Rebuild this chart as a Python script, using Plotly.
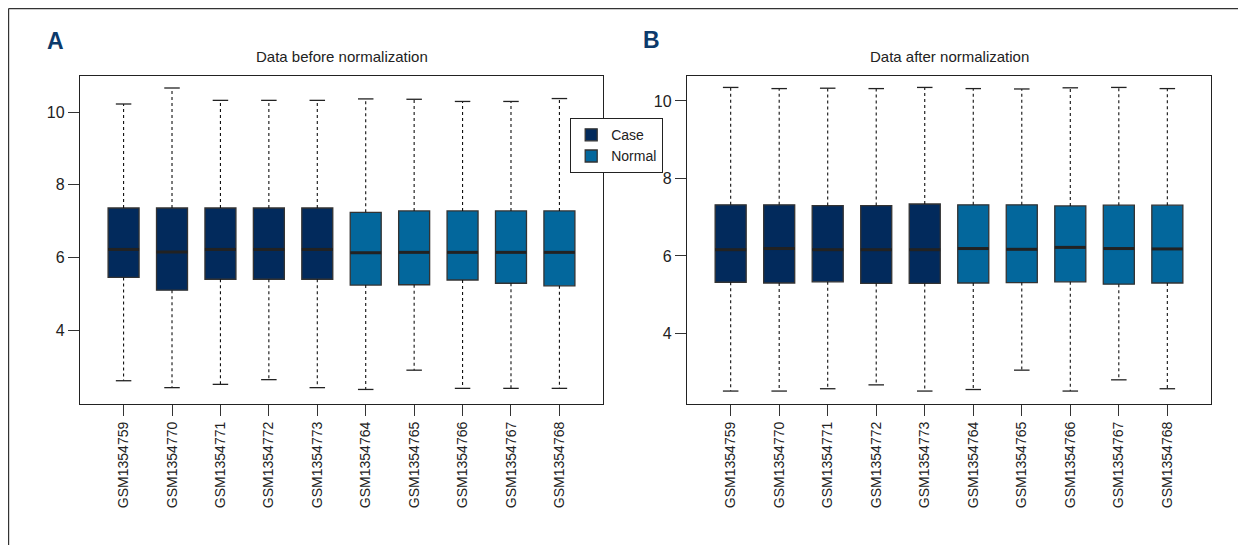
import plotly.graph_objects as go

# ---------------- data ----------------
samples = ["GSM1354759", "GSM1354770", "GSM1354771", "GSM1354772", "GSM1354773",
           "GSM1354764", "GSM1354765", "GSM1354766", "GSM1354767", "GSM1354768"]
groups = ["Case"] * 5 + ["Normal"] * 5

# Panel A: before normalization
a_upper = [10.22, 10.66, 10.32, 10.32, 10.32, 10.36, 10.35, 10.29, 10.29, 10.37]
a_q3 = [7.36, 7.36, 7.36, 7.36, 7.36, 7.24, 7.28, 7.28, 7.28, 7.28]
a_med = [6.22, 6.15, 6.22, 6.22, 6.22, 6.13, 6.14, 6.14, 6.14, 6.14]
a_q1 = [5.45, 5.10, 5.40, 5.40, 5.40, 5.24, 5.25, 5.38, 5.29, 5.22]
a_lower = [2.61, 2.42, 2.51, 2.64, 2.42, 2.37, 2.90, 2.40, 2.40, 2.40]

# Panel B: after normalization
b_upper = [10.35, 10.32, 10.33, 10.32, 10.35, 10.32, 10.31, 10.34, 10.35, 10.32]
b_q3 = [7.32, 7.32, 7.30, 7.30, 7.34, 7.32, 7.32, 7.29, 7.31, 7.31]
b_med = [6.16, 6.19, 6.16, 6.16, 6.16, 6.19, 6.17, 6.22, 6.19, 6.18]
b_q1 = [5.32, 5.30, 5.33, 5.29, 5.29, 5.30, 5.31, 5.33, 5.27, 5.30]
b_lower = [2.51, 2.51, 2.57, 2.67, 2.51, 2.55, 3.05, 2.51, 2.80, 2.57]

y_ticks = [4, 6, 8, 10]

# ---------------- style ----------------
colors = {"Case": "#022a5c", "Normal": "#03679c"}
FONT = "Liberation Sans, Arial, sans-serif"
BOXW = 0.64
CAP = BOXW / 4
pos = list(range(1, len(samples) + 1))

fig = go.Figure()


def add_panel(xa, ya, upper, q3, med, q1, lower, show_legend):
    wx, wy, cx, cy, mx, my = [], [], [], [], [], []
    for p, u, h, m, l, lo in zip(pos, upper, q3, med, q1, lower):
        wx += [p, p, None, p, p, None]
        wy += [h, u, None, l, lo, None]
        cx += [p - CAP, p + CAP, None, p - CAP, p + CAP, None]
        cy += [u, u, None, lo, lo, None]
        mx += [p - BOXW / 2, p + BOXW / 2, None]
        my += [m, m, None]
    # dotted whiskers
    fig.add_trace(go.Scatter(x=wx, y=wy, mode="lines", xaxis=xa, yaxis=ya,
                             line=dict(color="#111111", width=1.1, dash="dot"),
                             showlegend=False, hoverinfo="skip"))
    # whisker caps
    fig.add_trace(go.Scatter(x=cx, y=cy, mode="lines", xaxis=xa, yaxis=ya,
                             line=dict(color="#222222", width=1.3),
                             showlegend=False, hoverinfo="skip"))
    # boxes per group
    for g in ["Case", "Normal"]:
        idx = [i for i, gg in enumerate(groups) if gg == g]
        fig.add_trace(go.Box(
            name=g, x=[pos[i] for i in idx],
            q1=[q1[i] for i in idx], median=[med[i] for i in idx],
            q3=[q3[i] for i in idx],
            lowerfence=[q1[i] for i in idx], upperfence=[q3[i] for i in idx],
            width=BOXW, fillcolor=colors[g],
            line=dict(color="#333333", width=1.3),
            xaxis=xa, yaxis=ya, showlegend=show_legend, legendgroup=g,
            hoverinfo="skip"))
    # thick medians
    fig.add_trace(go.Scatter(x=mx, y=my, mode="lines", xaxis=xa, yaxis=ya,
                             line=dict(color="#222222", width=3),
                             showlegend=False, hoverinfo="skip"))


add_panel("x", "y", a_upper, a_q3, a_med, a_q1, a_lower, True)
add_panel("x2", "y2", b_upper, b_q3, b_med, b_q1, b_lower, False)

# page has an 8px body margin: figure occupies the window minus 8px
OFF = 8
W, H = 1246 - OFF, 545 - OFF


def px(x):
    return (x - OFF) / W


def py(y):
    return 1 - (y - OFF) / H


axA_l, axA_r = px(80), px(603)
axB_l, axB_r = px(687), px(1211)
ax_b, ax_t = py(404), py(76)

common_x = dict(range=[0.1, 10.9], tickmode="array", tickvals=pos, ticktext=samples,
                tickangle=-90, ticks="outside", ticklen=11, tickwidth=1.3,
                tickcolor="#333333", showline=True, linecolor="#222222", linewidth=1.3,
                mirror=True, showgrid=False, zeroline=False,
                tickfont=dict(family=FONT, size=14, color="#222222"))
common_y = dict(tickmode="array", tickvals=y_ticks, ticks="outside", ticklen=11,
                tickwidth=1.3, tickcolor="#333333", showline=True, linecolor="#222222",
                linewidth=1.3, mirror=True, showgrid=False, zeroline=False,
                tickfont=dict(family=FONT, size=16, color="#222222"))

fig.update_layout(
    width=W, height=H,
    margin=dict(l=0, r=0, t=0, b=0),
    paper_bgcolor="white", plot_bgcolor="white",
    boxmode="overlay",
    font=dict(family=FONT, color="#222222"),
    xaxis=dict(domain=[axA_l, axA_r], anchor="y", **common_x),
    yaxis=dict(domain=[ax_b, ax_t], anchor="x", range=[1.97, 10.99], **common_y),
    xaxis2=dict(domain=[axB_l, axB_r], anchor="y2", **common_x),
    yaxis2=dict(domain=[ax_b, ax_t], anchor="x2", range=[2.176, 10.645], **common_y),
    legend=dict(x=px(570), y=py(118), xanchor="left", yanchor="top",
                bgcolor="white", bordercolor="#222222", borderwidth=1.2,
                font=dict(family=FONT, size=14, color="#222222"),
                tracegroupgap=0, itemwidth=30),
    annotations=[
        dict(text="Data before normalization", x=(axA_l + axA_r) / 2, y=py(57),
             xref="paper", yref="paper", xanchor="center", yanchor="middle",
             showarrow=False, font=dict(family=FONT, size=15, color="#222222")),
        dict(text="Data after normalization", x=(axB_l + axB_r) / 2, y=py(57),
             xref="paper", yref="paper", xanchor="center", yanchor="middle",
             showarrow=False, font=dict(family=FONT, size=15, color="#222222")),
        dict(text="<b>A</b>", x=px(55), y=py(41), xref="paper", yref="paper",
             xanchor="center", yanchor="middle", showarrow=False,
             font=dict(family=FONT, size=23, color="#0c3a6b")),
        dict(text="<b>B</b>", x=px(651), y=py(40), xref="paper", yref="paper",
             xanchor="center", yanchor="middle", showarrow=False,
             font=dict(family=FONT, size=23, color="#0c3a6b")),
    ],
    shapes=[
        dict(type="line", xref="paper", yref="paper", x0=0.6 / W, x1=1,
             y0=1 - 0.6 / H, y1=1 - 0.6 / H, line=dict(color="#333333", width=1.2)),
        dict(type="line", xref="paper", yref="paper", x0=0.6 / W, x1=0.6 / W, y0=0,
             y1=1 - 0.6 / H, line=dict(color="#333333", width=1.2)),
    ],
)

fig.write_html("out.html")
